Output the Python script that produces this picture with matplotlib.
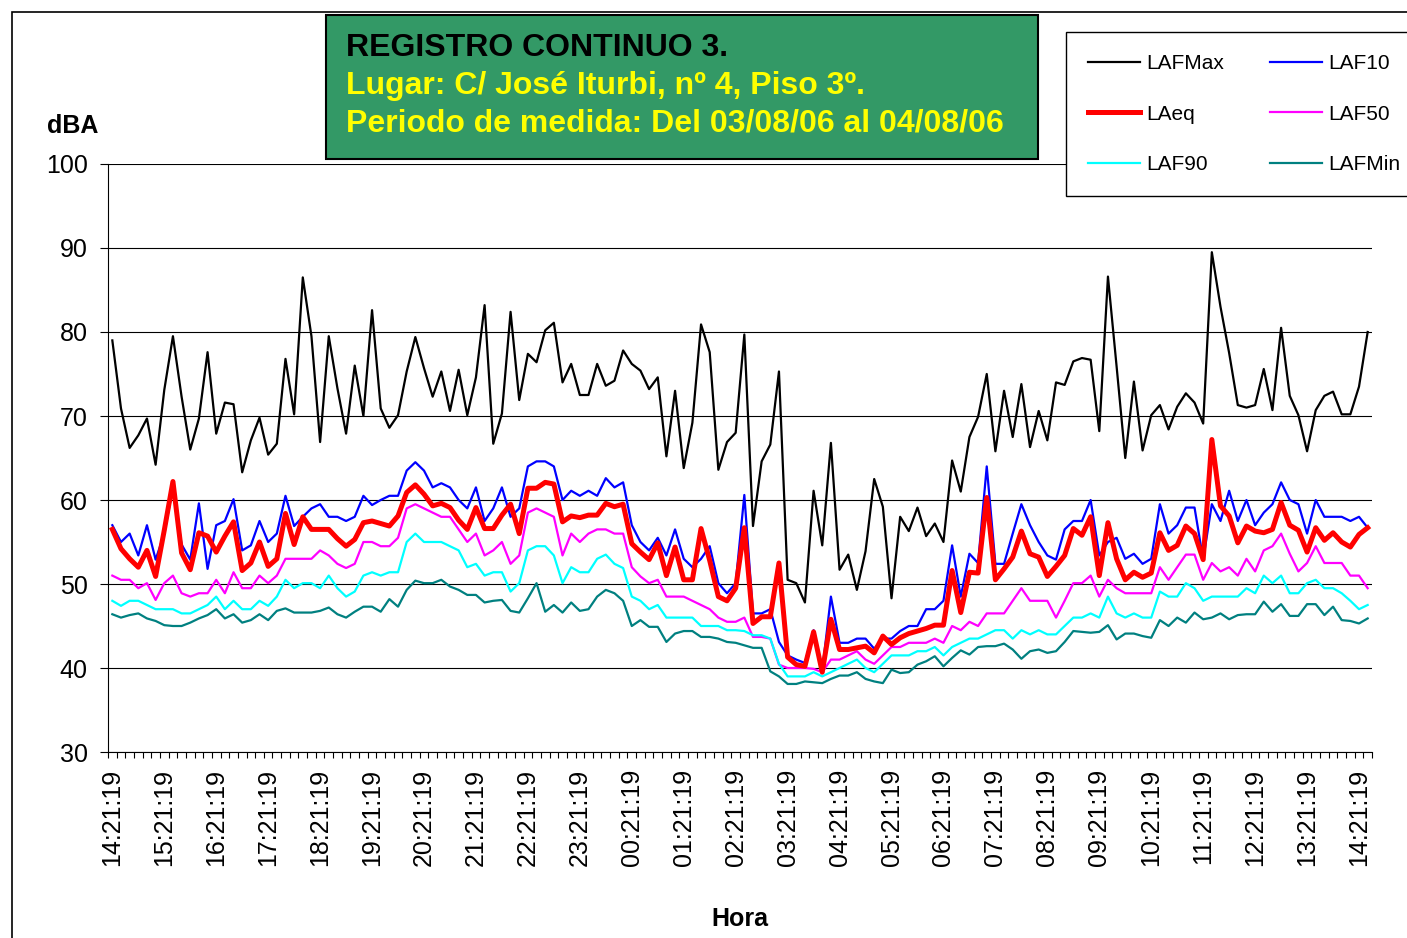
import numpy as np
import matplotlib
matplotlib.use('Agg')
from matplotlib import pyplot as plt
from matplotlib.patches import Rectangle

plt.rcParams['font.family'] = ['Liberation Sans', 'DejaVu Sans']

# 10-minute readings, 14:21:19 (03/08/06) -> 14:21:19 (04/08/06)
laf_max = [79.0, 70.9, 66.2, 67.7, 69.7, 64.2, 73.1, 79.5, 72.3, 66.0, 69.7, 77.6, 67.9, 71.6, 71.4, 63.3, 67.1, 69.8, 65.4, 66.7, 76.8, 70.2, 86.5, 79.5,
           66.9, 79.5, 73.3, 67.9, 76.0, 70.0, 82.6, 70.9, 68.6, 70.1, 75.3, 79.4, 75.7, 72.3, 75.3, 70.6, 75.5, 70.1, 74.6, 83.2, 66.7, 70.3, 82.4, 71.9,
           77.4, 76.4, 80.2, 81.1, 74.0, 76.2, 72.5, 72.5, 76.2, 73.6, 74.2, 77.8, 76.2, 75.4, 73.2, 74.6, 65.2, 73.0, 63.8, 69.2, 80.9, 77.6, 63.6, 66.9, 68.0,
           79.7, 56.9, 64.6, 66.6, 75.3, 50.5, 50.1, 47.8, 61.1, 54.6, 66.8, 51.7, 53.5, 49.3, 53.9, 62.5, 59.2, 48.3, 58.0, 56.3, 59.1, 55.7, 57.2, 55.0,
           64.7, 61.0, 67.5, 69.9, 75.0, 65.8, 73.0, 67.5, 73.8, 66.3, 70.6, 67.1, 74.0, 73.7, 76.5, 76.9, 76.7, 68.2, 86.6, 75.9, 65.0, 74.1, 65.9, 70.1,
           71.3, 68.4, 71.1, 72.7, 71.6, 69.1, 89.5, 83.0, 77.5, 71.3, 71.0, 71.3, 75.6, 70.7, 80.5, 72.4, 70.1, 65.8, 70.7, 72.4, 72.9, 70.2, 70.2, 73.5, 80.0]

laeq = [56.5, 54.2, 53.0, 52.0, 54.0, 50.9, 56.4, 62.2, 53.7, 51.7, 56.1, 55.7, 53.8, 55.7, 57.4, 51.6, 52.5, 55.0, 52.1, 53.0, 58.4, 54.7, 58.0, 56.5,
        56.5, 56.5, 55.4, 54.5, 55.3, 57.3, 57.5, 57.2, 56.9, 58.1, 60.9, 61.8, 60.7, 59.3, 59.6, 59.1, 57.6, 56.5, 59.1, 56.6, 56.6, 58.2, 59.5, 56.0,
        61.4, 61.4, 62.1, 61.9, 57.4, 58.1, 57.9, 58.2, 58.2, 59.6, 59.2, 59.5, 54.8, 53.8, 52.9, 54.9, 51.0, 54.4, 50.5, 50.5, 56.6, 52.8, 48.5, 48.0, 49.5,
        56.7, 45.3, 46.1, 46.1, 52.5, 41.3, 40.4, 40.2, 44.3, 39.5, 45.8, 42.2, 42.2, 42.4, 42.6, 41.8, 43.8, 42.8, 43.6, 44.1, 44.4, 44.7, 45.1, 45.1,
        51.6, 46.6, 51.4, 51.3, 60.3, 50.5, 51.8, 53.2, 56.3, 53.6, 53.2, 50.9, 52.1, 53.4, 56.6, 55.8, 58.0, 51.0, 57.3, 53.0, 50.5, 51.4, 50.8, 51.3,
        56.1, 54.0, 54.6, 56.9, 56.0, 52.9, 67.2, 59.3, 58.1, 54.9, 56.9, 56.3, 56.1, 56.5, 59.7, 57.0, 56.4, 53.8, 56.7, 55.2, 56.1, 55.0, 54.4, 55.9, 56.7]

laf10 = [57.0, 55.0, 56.0, 53.4, 57.0, 52.9, 56.0, 61.5, 54.7, 52.9, 59.6, 51.8, 57.0, 57.5, 60.1, 54.0, 54.6, 57.5, 55.0, 56.0, 60.5, 56.9, 58.0, 59.0,
         59.5, 58.0, 58.0, 57.5, 58.0, 60.5, 59.4, 60.0, 60.5, 60.5, 63.5, 64.5, 63.5, 61.5, 62.0, 61.5, 60.0, 59.0, 61.5, 57.5, 59.0, 61.5, 58.0, 59.0,
         64.0, 64.6, 64.6, 64.0, 60.0, 61.1, 60.5, 61.1, 60.5, 62.6, 61.5, 62.1, 57.0, 55.0, 54.0, 55.5, 53.4, 56.5, 53.0, 52.0, 53.0, 54.5, 50.1, 48.9, 50.1,
         60.6, 46.5, 46.5, 47.0, 43.1, 41.5, 41.0, 40.6, 44.5, 39.7, 48.5, 43.0, 43.0, 43.5, 43.5, 42.3, 43.5, 43.5, 44.4, 45.0, 45.0, 47.0, 47.0, 48.0,
         54.6, 48.5, 53.6, 52.5, 64.0, 52.4, 52.4, 56.0, 59.5, 57.0, 55.0, 53.4, 52.9, 56.5, 57.5, 57.5, 60.0, 53.4, 55.0, 55.5, 53.0, 53.6, 52.4, 53.0,
         59.5, 56.0, 57.0, 59.1, 59.1, 52.9, 59.5, 57.5, 61.1, 57.5, 60.0, 57.0, 58.5, 59.5, 62.1, 60.0, 59.5, 56.0, 60.0, 58.0, 58.0, 58.0, 57.5, 58.0, 56.7]

laf50 = [51.0, 50.5, 50.5, 49.5, 50.1, 48.1, 50.1, 51.0, 48.9, 48.5, 48.9, 48.9, 50.5, 48.9, 51.4, 49.5, 49.5, 51.0, 50.1, 51.0, 53.0, 53.0, 53.0, 53.0,
         54.0, 53.4, 52.4, 51.9, 52.4, 55.0, 55.0, 54.5, 54.5, 55.5, 59.0, 59.5, 59.0, 58.5, 58.0, 58.0, 56.5, 55.0, 56.0, 53.4, 54.0, 55.0, 52.4, 53.4,
         58.5, 59.0, 58.5, 58.0, 53.4, 56.0, 55.0, 56.0, 56.5, 56.5, 56.0, 56.0, 52.0, 50.9, 50.1, 50.5, 48.5, 48.5, 48.5, 48.0, 47.5, 47.0, 46.0, 45.5, 45.5,
         46.0, 43.7, 43.7, 43.5, 40.4, 40.0, 40.0, 40.0, 39.9, 39.5, 41.0, 41.0, 41.5, 42.0, 41.0, 40.5, 41.5, 42.5, 42.5, 43.0, 43.0, 43.0, 43.5, 43.0,
         45.0, 44.5, 45.5, 45.0, 46.5, 46.5, 46.5, 48.0, 49.5, 48.0, 48.0, 48.0, 46.0, 48.0, 50.1, 50.1, 51.0, 48.5, 50.5, 49.5, 48.9, 48.9, 48.9, 48.9,
         52.0, 50.5, 52.0, 53.5, 53.5, 50.5, 52.5, 51.5, 52.0, 51.0, 53.0, 51.5, 54.0, 54.5, 56.0, 53.6, 51.5, 52.5, 54.5, 52.5, 52.5, 52.5, 51.0, 51.0, 49.5]

laf90 = [48.0, 47.4, 48.0, 48.0, 47.5, 47.0, 47.0, 47.0, 46.5, 46.5, 47.0, 47.5, 48.5, 47.0, 48.0, 47.0, 47.0, 48.0, 47.4, 48.5, 50.5, 49.5, 50.1, 50.1,
         49.5, 51.0, 49.5, 48.5, 49.1, 51.0, 51.4, 51.0, 51.4, 51.4, 55.0, 56.0, 55.0, 55.0, 55.0, 54.5, 54.0, 52.0, 52.4, 51.0, 51.4, 51.4, 49.1, 50.1,
         54.0, 54.5, 54.5, 53.4, 50.1, 52.0, 51.4, 51.4, 53.0, 53.5, 52.4, 51.9, 48.5, 48.0, 47.0, 47.5, 46.0, 46.0, 46.0, 46.0, 45.0, 45.0, 45.0, 44.5, 44.5,
         44.4, 43.9, 43.9, 43.5, 40.5, 39.0, 39.0, 39.0, 39.5, 39.0, 39.5, 40.0, 40.5, 41.0, 40.0, 39.5, 40.5, 41.5, 41.5, 41.5, 42.0, 42.0, 42.5, 41.5,
         42.5, 43.0, 43.5, 43.5, 44.0, 44.5, 44.5, 43.5, 44.5, 44.0, 44.5, 44.0, 44.0, 45.0, 46.0, 46.0, 46.5, 46.0, 48.5, 46.5, 46.0, 46.5, 46.0, 46.0,
         49.1, 48.5, 48.5, 50.1, 49.5, 48.0, 48.5, 48.5, 48.5, 48.5, 49.5, 48.9, 51.0, 50.1, 51.0, 48.9, 48.9, 50.1, 50.5, 49.5, 49.5, 48.9, 48.0, 47.0, 47.5]

laf_min = [46.4, 46.0, 46.3, 46.5, 45.9, 45.6, 45.1, 45.0, 45.0, 45.4, 45.9, 46.3, 47.0, 45.9, 46.4, 45.4, 45.7, 46.4, 45.7, 46.8, 47.1, 46.6, 46.6, 46.6,
           46.8, 47.2, 46.4, 46.0, 46.7, 47.3, 47.3, 46.7, 48.2, 47.3, 49.3, 50.4, 50.1, 50.1, 50.5, 49.7, 49.3, 48.7, 48.7, 47.8, 48.0, 48.1, 46.8, 46.6,
           48.3, 50.1, 46.7, 47.5, 46.6, 47.8, 46.8, 47.0, 48.5, 49.3, 48.9, 48.0, 45.0, 45.7, 44.9, 44.9, 43.1, 44.1, 44.4, 44.4, 43.7, 43.7, 43.5, 43.1, 43.0,
           42.7, 42.4, 42.4, 39.6, 39.0, 38.1, 38.1, 38.4, 38.3, 38.2, 38.7, 39.1, 39.1, 39.5, 38.7, 38.4, 38.2, 39.8, 39.4, 39.5, 40.4, 40.8, 41.4, 40.2,
           41.2, 42.1, 41.6, 42.5, 42.6, 42.6, 42.9, 42.2, 41.1, 42.0, 42.2, 41.8, 42.0, 43.1, 44.4, 44.3, 44.2, 44.3, 45.1, 43.4, 44.1, 44.1, 43.8, 43.6,
           45.7, 45.0, 46.0, 45.4, 46.6, 45.8, 46.0, 46.5, 45.8, 46.3, 46.4, 46.4, 47.9, 46.7, 47.6, 46.2, 46.2, 47.6, 47.6, 46.3, 47.3, 45.7, 45.6, 45.3, 45.9]

hour_labels = ['14:21:19', '15:21:19', '16:21:19', '17:21:19', '18:21:19', '19:21:19', '20:21:19',
               '21:21:19', '22:21:19', '23:21:19', '00:21:19', '01:21:19', '02:21:19', '03:21:19',
               '04:21:19', '05:21:19', '06:21:19', '07:21:19', '08:21:19', '09:21:19', '10:21:19',
               '11:21:19', '12:21:19', '13:21:19', '14:21:19']

W, H = 1407, 938
fig = plt.figure(figsize=(W / 100, H / 100), dpi=100)
ax = fig.add_axes([108 / W, 1 - 752 / H, (1372 - 108) / W, (752 - 164) / H])

n = len(laeq)
x = np.arange(n)

l_max, = ax.plot(x, laf_max, color='black', lw=1.6, label='LAFMax')
l_10, = ax.plot(x, laf10, color='#0000FF', lw=1.6, label='LAF10')
l_50, = ax.plot(x, laf50, color='#FF00FF', lw=1.6, label='LAF50')
l_90, = ax.plot(x, laf90, color='#00FFFF', lw=1.6, label='LAF90')
l_min, = ax.plot(x, laf_min, color='#008080', lw=1.6, label='LAFMin')
l_eq, = ax.plot(x, laeq, color='#FF0000', lw=3.6, label='LAeq')

ax.set_xlim(-0.5, n - 0.5)
ax.set_ylim(30, 100)
ax.set_yticks(np.arange(30, 101, 10))
ax.yaxis.grid(True, color='black', lw=0.8)
ax.set_axisbelow(True)
ax.tick_params(axis='y', labelsize=18, length=5.5, width=0.8, pad=9)

# tick marks between categories, labels every hour
ax.set_xticks(np.arange(-0.5, n, 1))
ax.set_xticklabels([])
ax.tick_params(axis='x', which='major', length=4.5, width=0.8)
ax.set_xticks(np.arange(0, n, 6)[:len(hour_labels)], minor=True)
ax.set_xticklabels(hour_labels, minor=True, rotation=90, fontsize=18)
ax.tick_params(axis='x', which='minor', length=0, pad=12)

for s in ['top', 'right']:
    ax.spines[s].set_visible(False)
for s in ['left', 'bottom']:
    ax.spines[s].set_linewidth(0.8)

# chart area frame
fig.patches.append(Rectangle((12 / W, -0.05), 1.1, 1 - 12 / H + 0.05, transform=fig.transFigure,
                             fill=False, edgecolor='black', lw=1.2, clip_on=False))

fig.text(47 / W, 1 - 133 / H, 'dBA', fontsize=18, fontweight='bold', ha='left', va='baseline')
fig.text(740 / W, 1 - 919 / H, 'Hora', fontsize=18, fontweight='bold', ha='center', va='center')

# title box
fig.patches.append(Rectangle((326 / W, 1 - 159 / H), (1038 - 326) / W, (159 - 15) / H,
                             transform=fig.transFigure, facecolor='#339966', edgecolor='black', lw=1.5))
title_lines = [('REGISTRO CONTINUO 3.', 'black'),
               ('Lugar: C/ José Iturbi, nº 4, Piso 3º.', '#FFFF00'),
               ('Periodo de medida: Del 03/08/06 al 04/08/06', '#FFFF00')]
for k, (txt, col) in enumerate(title_lines):
    fig.text(346 / W, 1 - (56 + 38 * k) / H, txt, fontsize=23, fontweight='bold',
             color=col, ha='left', va='baseline')

leg = fig.legend(handles=[l_max, l_eq, l_90, l_10, l_50, l_min], ncol=2,
                 loc='upper left', bbox_to_anchor=(1066 / W, 1 - 32 / H),
                 fontsize=15, frameon=True, fancybox=False, edgecolor='black',
                 framealpha=1, handlelength=2.5, handletextpad=0.3, columnspacing=2.2,
                 labelspacing=1.52, borderpad=1.05, borderaxespad=0)
leg.get_frame().set_linewidth(1.0)

fig.savefig('out.png', dpi=100)
